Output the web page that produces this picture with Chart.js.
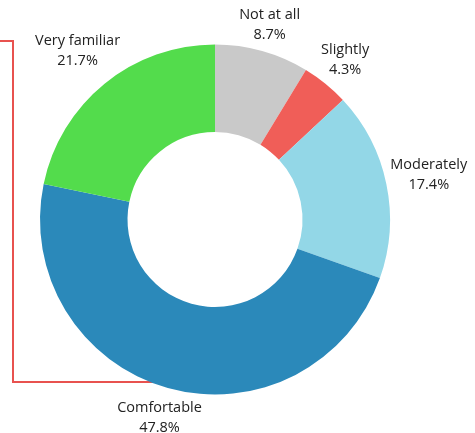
<!DOCTYPE html>
<html>
<head>
<meta charset="utf-8">
<script src="https://cdn.jsdelivr.net/npm/chart.js@4/dist/chart.umd.min.js"></script>
<style>
  html, body { margin: 0; padding: 0; background: #fff; }
  canvas { display: block; }
</style>
</head>
<body>
<canvas id="chart" width="475" height="433"></canvas>
<script>
// answers, clockwise from 12 o'clock
const categories = ["Not at all", "Slightly", "Moderately", "Comfortable", "Very familiar"];
const counts = [2, 1, 4, 11, 5];
const colors = ["#C9C9C9", "#F05E58", "#93D7E7", "#2B89BA", "#53DC4C"];

const total = counts.reduce((a, b) => a + b, 0);
const pctLabels = counts.map((c) => (c / total * 100).toFixed(1) + "%");

// red bracket sitting behind the ring on the left
const bracketPlugin = {
  id: "bracket",
  beforeDatasetsDraw(chart) {
    const ctx = chart.ctx;
    const arc = chart.getDatasetMeta(0).data[0];
    ctx.save();
    ctx.strokeStyle = "#E8524F";
    ctx.lineWidth = 2;
    ctx.beginPath();
    ctx.moveTo(0, 41);
    ctx.lineTo(13, 41);
    ctx.lineTo(13, 382);
    ctx.lineTo(arc.x, 382);
    ctx.stroke();
    ctx.restore();
  },
};

// category + percent written outside each slice
const outsideLabels = {
  id: "outsideLabels",
  afterDatasetsDraw(chart) {
    const ctx = chart.ctx;
    const meta = chart.getDatasetMeta(0);
    ctx.save();
    ctx.font = "14.5px 'Open Sans', sans-serif";
    ctx.fillStyle = "#222";
    ctx.textAlign = "center";
    ctx.textBaseline = "middle";
    const lineH = 20;
    meta.data.forEach((el, i) => {
      const mid = (el.startAngle + el.endAngle) / 2;
      const cos = Math.cos(mid), sin = Math.sin(mid);
      const w = Math.max(ctx.measureText(categories[i]).width, ctx.measureText(pctLabels[i]).width);
      const h = 36;
      const proj = Math.abs(cos) * w / 2 + Math.abs(sin) * h / 2;
      const r = el.outerRadius + 2 + proj;
      const cx = el.x + cos * r;
      const cy = el.y + sin * r;
      ctx.fillText(categories[i], cx, cy - lineH / 2);
      ctx.fillText(pctLabels[i], cx, cy + lineH / 2);
    });
    ctx.restore();
  },
};

new Chart(document.getElementById("chart"), {
  type: "doughnut",
  data: {
    labels: categories,
    datasets: [
      {
        data: counts,
        backgroundColor: colors,
        borderWidth: 0,
      },
    ],
  },
  options: {
    responsive: false,
    animation: false,
    cutout: "50%",
    layout: {
      padding: { left: 40, right: 85, top: 44, bottom: 38 },
    },
    plugins: {
      legend: { display: false },
      tooltip: { enabled: false },
    },
  },
  plugins: [bracketPlugin, outsideLabels],
});
</script>
</body>
</html>
